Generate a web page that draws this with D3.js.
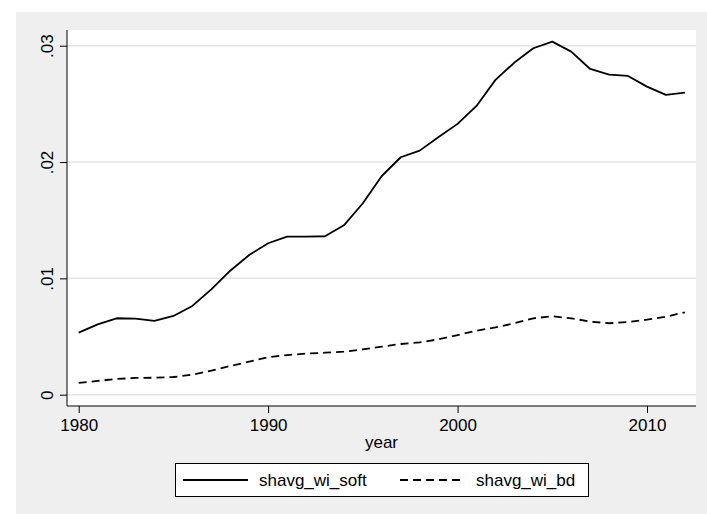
<!DOCTYPE html>
<html>
<head>
<meta charset="utf-8">
<script src="https://cdn.jsdelivr.net/npm/d3@7"></script>
<style>
  html, body { margin: 0; padding: 0; background: #ffffff; }
  svg { display: block; }
  text { font-family: "Liberation Sans", Arial, sans-serif; fill: #000; }
</style>
</head>
<body>
<svg id="chart" width="707" height="514"></svg>
<script>
// Years and the two series (shares) plotted against them
const years = d3.range(1980, 2013);
const shavgWiSoft = [
  0.00533, 0.00605, 0.00657, 0.00654, 0.00634, 0.00677, 0.00763, 0.00906, 0.01066, 0.01201,
  0.01302, 0.01359, 0.01359, 0.01362, 0.01456, 0.01646, 0.01880, 0.02041, 0.02098, 0.02216,
  0.02328, 0.02482, 0.02706, 0.02855, 0.02978, 0.03035, 0.02949, 0.02800, 0.02752, 0.02740,
  0.02648, 0.02577, 0.02597
];
const shavgWiBd = [
  0.00101, 0.00118, 0.00135, 0.00144, 0.00146, 0.00152, 0.00172, 0.00206, 0.00247, 0.00284,
  0.00322, 0.00341, 0.00353, 0.00361, 0.00370, 0.00390, 0.00413, 0.00436, 0.00450, 0.00476,
  0.00513, 0.00550, 0.00579, 0.00614, 0.00657, 0.00674, 0.00657, 0.00628, 0.00614, 0.00625,
  0.00645, 0.00671, 0.00708
];
const xTicks = [1980, 1990, 2000, 2010];
const yTicks = [0, 0.01, 0.02, 0.03];
const yTickLabels = ["0", ".01", ".02", ".03"];
const seriesNames = ["shavg_wi_soft", "shavg_wi_bd"];
const xTitle = "year";

const svg = d3.select("#chart");

// graph region and plot region
const plot = { left: 67, right: 696, top: 30, bottom: 406 };
svg.append("rect").attr("x", 16).attr("y", 12).attr("width", 691).attr("height", 502)
  .attr("fill", "#efefef");
svg.append("rect").attr("x", plot.left).attr("y", plot.top)
  .attr("width", plot.right - plot.left).attr("height", plot.bottom - plot.top)
  .attr("fill", "#ffffff");

const x = d3.scaleLinear().domain([1980, 2010]).range([78.7, 647]);
const y = d3.scaleLinear().domain([0, 0.03]).range([394.7, 45.7]);

// horizontal grid lines
svg.append("g").selectAll("line").data(yTicks).join("line")
  .attr("x1", plot.left).attr("x2", plot.right)
  .attr("y1", d => y(d)).attr("y2", d => y(d))
  .attr("stroke", "#e4e4e4").attr("stroke-width", 1.5);

// y axis
const yAxis = d3.axisLeft(y).tickValues(yTicks).tickSize(7).tickPadding(7)
  .tickFormat((d, i) => yTickLabels[i]);
const gy = svg.append("g").attr("transform", `translate(${plot.left},0)`).call(yAxis);
gy.select(".domain").remove();
gy.selectAll(".tick line").attr("stroke", "#000");
gy.selectAll(".tick text")
  .attr("font-size", 17)
  .attr("text-anchor", "middle")
  .attr("dy", null)
  .attr("x", null)
  .attr("transform", "translate(-14,0) rotate(-90)")
  .attr("y", 0)
  .attr("dy", "0.35em");
gy.selectAll(".tick text").attr("transform", "translate(-20,0) rotate(-90)");
svg.append("line").attr("x1", plot.left).attr("x2", plot.left)
  .attr("y1", plot.top).attr("y2", plot.bottom).attr("stroke", "#000").attr("stroke-width", 1);

// x axis
const xAxis = d3.axisBottom(x).tickValues(xTicks).tickSize(7).tickPadding(6)
  .tickFormat(d3.format("d"));
const gx = svg.append("g").attr("transform", `translate(0,${plot.bottom})`).call(xAxis);
gx.select(".domain").remove();
gx.selectAll(".tick line").attr("stroke", "#000");
gx.selectAll(".tick text").attr("font-size", 17);
svg.append("line").attr("x1", plot.left).attr("x2", plot.right)
  .attr("y1", plot.bottom).attr("y2", plot.bottom).attr("stroke", "#000").attr("stroke-width", 1);

svg.append("text").attr("x", (plot.left + plot.right) / 2).attr("y", 448)
  .attr("text-anchor", "middle").attr("font-size", 17).text(xTitle);

// series lines
const line = d3.line().x((d, i) => x(years[i])).y(d => y(d));
svg.append("path").datum(shavgWiSoft).attr("d", line)
  .attr("fill", "none").attr("stroke", "#000").attr("stroke-width", 1.8)
  .attr("stroke-linejoin", "round");
svg.append("path").datum(shavgWiBd).attr("d", line)
  .attr("fill", "none").attr("stroke", "#000").attr("stroke-width", 1.8)
  .attr("stroke-dasharray", "8,5");

// legend
const lg = svg.append("g");
lg.append("rect").attr("x", 175.5).attr("y", 463.5).attr("width", 413).attr("height", 33)
  .attr("fill", "#fff").attr("stroke", "#000").attr("stroke-width", 1);
lg.append("line").attr("x1", 183).attr("x2", 248).attr("y1", 480).attr("y2", 480)
  .attr("stroke", "#000").attr("stroke-width", 1.8);
lg.append("text").attr("x", 259).attr("y", 486).attr("font-size", 17).text(seriesNames[0]);
lg.append("line").attr("x1", 400).attr("x2", 465).attr("y1", 480).attr("y2", 480)
  .attr("stroke", "#000").attr("stroke-width", 1.8).attr("stroke-dasharray", "8,5");
lg.append("text").attr("x", 476).attr("y", 486).attr("font-size", 17).text(seriesNames[1]);
</script>
</body>
</html>
